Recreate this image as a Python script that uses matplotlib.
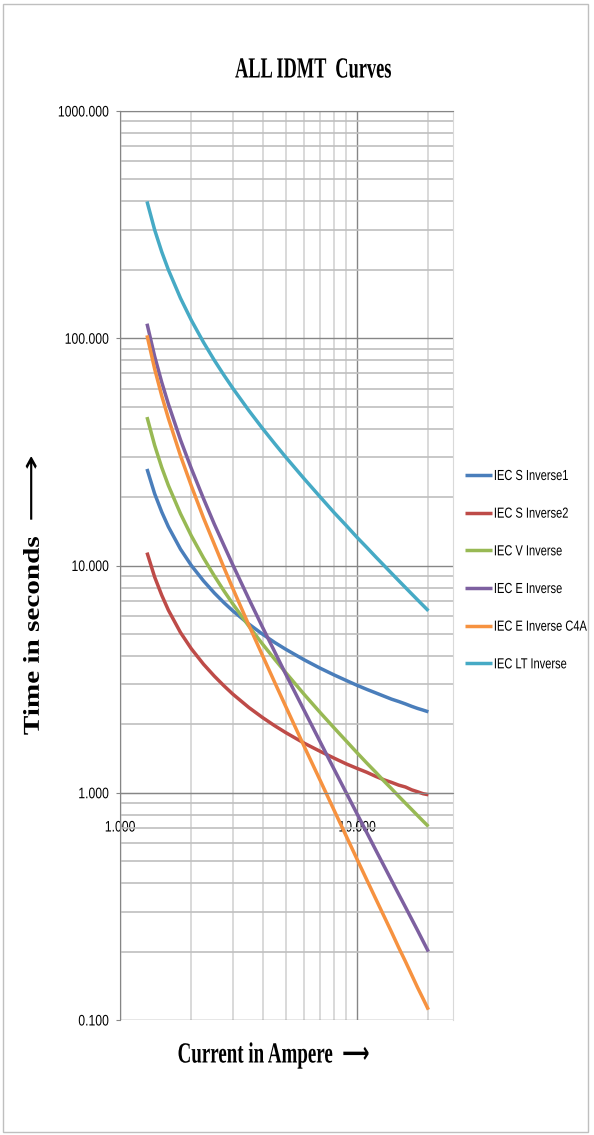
import matplotlib
matplotlib.use("Agg")
import matplotlib.pyplot as plt
import matplotlib.patheffects as pe
from matplotlib.transforms import Affine2D
from matplotlib.patches import Rectangle
from matplotlib.ticker import FixedLocator, FixedFormatter, NullFormatter

# Werte (Strom in A, Zeit in s)
current = [1.3, 1.4, 1.5, 1.6, 1.8, 2.0, 2.25, 2.5, 2.75, 3.0, 3.5, 4.0, 4.5, 5.0,
           6.0, 7.0, 8.0, 9.0, 10.0, 11.0, 12.0, 13.0, 14.0, 15.0, 16.0, 17.0, 18.0, 19.0, 20.0]

s_inverse1 = [26.6, 20.7, 17.2, 14.8, 11.8, 10.0, 8.56, 7.57, 6.85, 6.30, 5.52, 4.98, 4.58, 4.28,
              3.84, 3.53, 3.30, 3.12, 2.97, 2.85, 2.75, 2.66, 2.58, 2.52, 2.46, 2.40, 2.35, 2.31, 2.27]
s_inverse2 = [11.4, 8.9, 7.4, 6.36, 5.07, 4.30, 3.68, 3.26, 2.95, 2.71, 2.37, 2.14, 1.97, 1.84,
              1.65, 1.52, 1.42, 1.34, 1.28, 1.23, 1.18, 1.14, 1.11, 1.08, 1.06, 1.03, 1.01, 0.99, 0.98]
v_inverse = [45.0, 33.8, 27.0, 22.5, 16.9, 13.5, 10.8, 9.0, 7.71, 6.75, 5.4, 4.5, 3.86, 3.38,
             2.7, 2.25, 1.93, 1.69, 1.5, 1.35, 1.23, 1.125, 1.04, 0.964, 0.9, 0.844, 0.794, 0.75, 0.711]
e_inverse = [115.9, 83.3, 64.0, 51.3, 35.7, 26.7, 19.7, 15.2, 12.2, 10.0, 7.11, 5.33, 4.16, 3.33,
             2.29, 1.67, 1.27, 1.0, 0.808, 0.667, 0.559, 0.476, 0.410, 0.357, 0.314, 0.278, 0.248, 0.222, 0.2]
e_inverse_c4a = [103.0, 73.3, 55.8, 44.4, 30.4, 22.4, 16.2, 12.4, 9.74, 7.87, 5.45, 4.00, 3.05, 2.40,
                 1.59, 1.13, 0.838, 0.645, 0.510, 0.413, 0.341, 0.286, 0.243, 0.208, 0.181, 0.158, 0.139, 0.124, 0.111]
lt_inverse = [400.0, 300.0, 240.0, 200.0, 150.0, 120.0, 96.0, 80.0, 68.6, 60.0, 48.0, 40.0, 34.3, 30.0,
              24.0, 20.0, 17.1, 15.0, 13.3, 12.0, 10.9, 10.0, 9.23, 8.57, 8.0, 7.5, 7.06, 6.67, 6.32]

series = [
    ("IEC S Inverse1", s_inverse1, "#4A7EBB"),
    ("IEC S Inverse2", s_inverse2, "#BE4B48"),
    ("IEC V Inverse", v_inverse, "#98B954"),
    ("IEC E Inverse", e_inverse, "#7D60A0"),
    ("IEC E Inverse C4A", e_inverse_c4a, "#F69240"),
    ("IEC LT Inverse", lt_inverse, "#46AAC5"),
]

y_ticks = [0.1, 1, 10, 100, 1000]
y_labels = ["0.100", "1.000", "10.000", "100.000", "1000.000"]
y_minor = [m * d for d in [0.1, 1, 10, 100] for m in range(2, 10)]
x_ticks = [1, 10]
x_labels = ["1.000", "10.000"]
x_minor = [2, 3, 4, 5, 6, 7, 8, 9, 20]

SANS = "Liberation Sans"
SERIF = ["Liberation Serif", "DejaVu Sans"]


# Text stauchen (Originalbild ist in x gestaucht)
class Squeeze(pe.AbstractPathEffect):
    def __init__(self, sx=1.0, sy=1.0, anchor="center"):
        super().__init__()
        self.sx, self.sy, self.anchor = sx, sy, anchor

    def draw_path(self, renderer, gc, tpath, affine, rgbFace=None):
        ext = tpath.get_extents()
        cx = {"left": ext.x0, "right": ext.x1}.get(self.anchor, (ext.x0 + ext.x1) / 2)
        cy = (ext.y0 + ext.y1) / 2
        t = Affine2D().translate(-cx, -cy).scale(self.sx, self.sy).translate(cx, cy) + affine
        renderer.draw_path(gc, tpath, t, rgbFace)


W, H = 594, 1135
fig = plt.figure(figsize=(W / 100, H / 100), dpi=100)
fig.patches.append(Rectangle((3 / W, 3 / H), 585 / W, 1128 / H, transform=fig.transFigure,
                             fill=False, edgecolor="#BFBFBF", lw=1))

ax = fig.add_axes([120 / W, 1 - 1020 / H, (453 - 120) / W, (1020 - 111) / H])

for label, vals, col in series:
    ax.plot(current, vals, color=col, lw=2.5, label=label, solid_capstyle="butt")

ax.set_xscale("log")
ax.set_yscale("log")
ax.set_xlim(1, 25.4)
ax.set_ylim(0.1, 1000)

ax.yaxis.set_major_locator(FixedLocator(y_ticks))
ax.yaxis.set_major_formatter(FixedFormatter(y_labels))
ax.yaxis.set_minor_locator(FixedLocator(y_minor))
ax.yaxis.set_minor_formatter(NullFormatter())
ax.xaxis.set_major_locator(FixedLocator(x_ticks))
ax.xaxis.set_major_formatter(FixedFormatter(x_labels))
ax.xaxis.set_minor_locator(FixedLocator(x_minor))
ax.xaxis.set_minor_formatter(NullFormatter())

ax.set_axisbelow(True)
ax.grid(True, which="major", axis="both", color="#868686", lw=1.0)
ax.grid(True, which="minor", axis="y", color="#BFBFBF", lw=1.2)
ax.grid(True, which="minor", axis="x", color="#D9D9D9", lw=1.4)

# x-Achse schneidet bei 1.0
ax.spines["bottom"].set_position(("data", 1))
ax.spines["bottom"].set_color("#868686")
ax.spines["left"].set_color("#868686")
ax.spines["top"].set_color("#868686")
ax.spines["right"].set_color("#D9D9D9")
ax.tick_params(axis="x", which="both", length=0, pad=20)
ax.tick_params(axis="y", which="major", length=3, color="#868686", pad=5)
ax.tick_params(axis="y", which="minor", length=0)

for t in ax.get_yticklabels():
    t.set_fontfamily(SANS)
    t.set_fontsize(11)
    t.set_path_effects([Squeeze(0.8, anchor="right")])
for t in ax.get_xticklabels():
    t.set_fontfamily(SANS)
    t.set_fontsize(11)
    t.set_path_effects([Squeeze(0.8)])

fig.text(313 / W, 1 - 70 / H, "ALL IDMT  Curves", ha="center", va="center", fontsize=21,
         fontweight="bold", family=SERIF, path_effects=[Squeeze(0.63)])

# Achsentitel mit Pfeil
fig.text(273 / W, 1 - 1055 / H, "Current in Ampere  \u27F6", ha="center", va="center", fontsize=21,
         fontweight="bold", family=SERIF, path_effects=[Squeeze(0.65)])
fig.text(33.5 / W, 1 - 636 / H, "Time in seconds", ha="center", va="center", rotation=90,
         fontsize=21, fontweight="bold", family=SERIF, path_effects=[Squeeze(1.0, 0.78)])
fig.text(33.5 / W, 1 - 488.5 / H, "\u27F6", ha="center", va="center", rotation=90,
         fontsize=34, family="DejaVu Sans", path_effects=[Squeeze(1.0, 0.55)])

leg = ax.legend(loc="upper left", bbox_to_anchor=(465 / W, 1 - 470 / H), bbox_transform=fig.transFigure,
                frameon=False, handlelength=2.3, handletextpad=0.17,
                labelspacing=2.2, borderpad=0, borderaxespad=0, prop={"family": SANS, "size": 8.4})
for t in leg.get_texts():
    t.set_path_effects([Squeeze(0.95, 1.25, anchor="left")])

fig.savefig("out.png", dpi=100)
